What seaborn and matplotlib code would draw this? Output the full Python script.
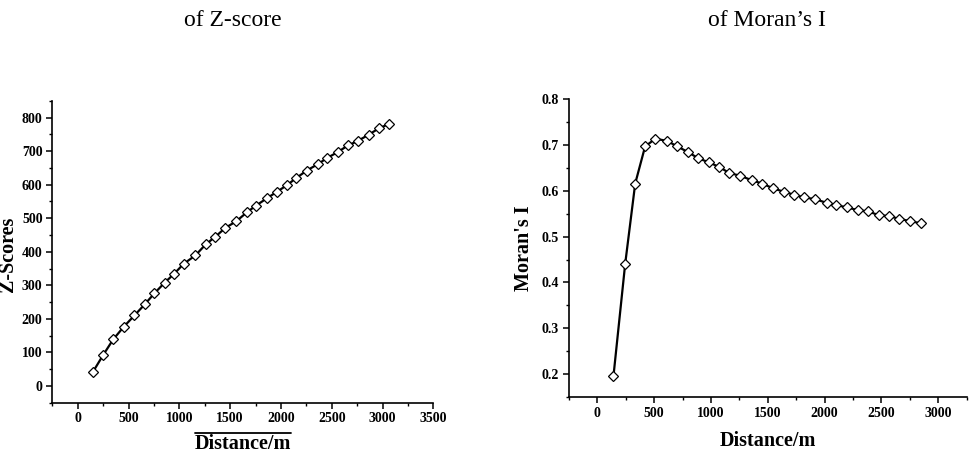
import matplotlib
matplotlib.use("Agg")
import matplotlib.pyplot as plt
from matplotlib.ticker import MultipleLocator, FormatStrFormatter
from matplotlib.lines import Line2D
import seaborn as sns
import pandas as pd

# ---- data ----
z_dist = [150, 250, 350, 455, 558, 659, 755, 856, 945, 1043, 1158, 1260, 1355, 1453, 1561,
          1663, 1752, 1860, 1962, 2057, 2152, 2254, 2368, 2457, 2559, 2660, 2755, 2864, 2965, 3064]
z_scores = [42, 92, 139, 177, 210, 243, 276, 308, 333, 364, 389, 422, 445, 471, 491,
            517, 537, 559, 579, 598, 620, 642, 662, 680, 697, 717, 730, 749, 768, 781]

m_dist = [143, 246, 334, 421, 512, 615, 705, 796, 890, 986, 1074, 1162, 1259, 1361, 1452,
          1542, 1642, 1727, 1815, 1914, 2017, 2104, 2195, 2292, 2385, 2476, 2567, 2655, 2751, 2851]
m_values = [0.196, 0.441, 0.616, 0.697, 0.714, 0.709, 0.697, 0.685, 0.671, 0.662, 0.652, 0.639,
            0.633, 0.623, 0.616, 0.606, 0.598, 0.592, 0.586, 0.582, 0.574, 0.569, 0.564, 0.558,
            0.555, 0.547, 0.545, 0.539, 0.534, 0.529]

titles = ["of Z-score", "of Moran\u2019s I"]
x_label = "Distance/m"
y_labels = ["Z-Scores", "Moran's I"]

sns.set_theme(style="ticks")
plt.rcParams['font.family'] = ['Liberation Serif', 'DejaVu Serif']
plt.rcParams['text.color'] = 'black'
plt.rcParams['axes.labelcolor'] = 'black'
plt.rcParams['xtick.color'] = 'black'
plt.rcParams['ytick.color'] = 'black'

fig = plt.figure(figsize=(9.69, 4.54), dpi=100)
ax1 = fig.add_axes([0.054, 0.113, 0.3932, 0.665])
ax2 = fig.add_axes([0.587, 0.1256, 0.4107, 0.6557])

df1 = pd.DataFrame({"d": z_dist, "v": z_scores})
df2 = pd.DataFrame({"d": m_dist, "v": m_values})

mk = dict(marker='D', markersize=5.0, markerfacecolor='white', markeredgecolor='black',
          markeredgewidth=0.9, color='black', linewidth=1.6)
sns.lineplot(data=df1, x="d", y="v", ax=ax1, **mk)
sns.lineplot(data=df2, x="d", y="v", ax=ax2, **mk)

ax1.set_xlim(-250, 3500)
ax1.set_ylim(-50, 850)
ax1.xaxis.set_major_locator(MultipleLocator(500))
ax1.xaxis.set_minor_locator(MultipleLocator(250))
ax1.yaxis.set_major_locator(MultipleLocator(100))
ax1.yaxis.set_minor_locator(MultipleLocator(50))

ax2.set_xlim(-250, 3250)
ax2.set_ylim(0.15, 0.8)
ax2.xaxis.set_major_locator(MultipleLocator(500))
ax2.xaxis.set_minor_locator(MultipleLocator(250))
ax2.yaxis.set_major_locator(MultipleLocator(0.1))
ax2.yaxis.set_minor_locator(MultipleLocator(0.05))
ax2.yaxis.set_major_formatter(FormatStrFormatter('%.1f'))

for ax, yl in zip([ax1, ax2], y_labels):
    sns.despine(ax=ax)
    for s in ['left', 'bottom']:
        ax.spines[s].set_linewidth(1.2)
        ax.spines[s].set_color('black')
    ax.tick_params(which='major', direction='out', length=4, width=1.1, color='black',
                   labelsize=10, pad=3, labelcolor='black')
    ax.tick_params(which='minor', direction='out', length=2.5, width=1.0, color='black')
    for lab in ax.get_xticklabels() + ax.get_yticklabels():
        lab.set_fontweight('bold')
    ax.set_ylabel(yl, fontsize=14.5, fontweight='bold', color='black')

ax1.set_xlabel(x_label, fontsize=14.5, fontweight='bold', labelpad=6, color='black')
ax2.set_xlabel(x_label, fontsize=14.5, fontweight='bold', labelpad=8, color='black')

# y label positions (axes coords)
ax1.yaxis.set_label_coords(-0.089, 0.49)
ax2.yaxis.set_label_coords(-0.087, 0.5)

# overline above left x label
fig.add_artist(Line2D([194.5/969, 291/969], [1 - 433/454, 1 - 433/454],
                      color='black', linewidth=1.3))

fig.text(0.2405, 0.955, titles[0], ha='center', va='center', fontsize=17)
fig.text(0.7918, 0.955, titles[1], ha='center', va='center', fontsize=17)

fig.savefig("out.png", dpi=100, facecolor='white')
